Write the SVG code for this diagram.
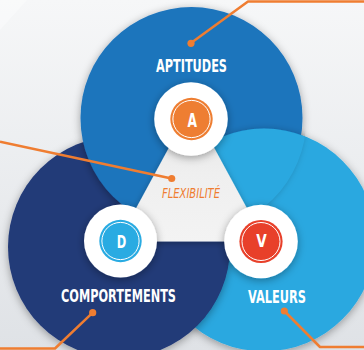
<svg xmlns="http://www.w3.org/2000/svg" width="364" height="350" viewBox="0 0 364 350">
<defs>
<linearGradient id="bg" x1="0" y1="0" x2="0" y2="1">
<stop offset="0" stop-color="#f6f7f8"/>
<stop offset="1" stop-color="#dfe2e6"/>
</linearGradient>
<linearGradient id="tri" x1="0" y1="0" x2="0" y2="1">
<stop offset="0" stop-color="#e2e2e2"/>
<stop offset="0.5" stop-color="#efefef"/>
<stop offset="1" stop-color="#f3f3f3"/>
</linearGradient>
<filter id="sh" x="-30%" y="-30%" width="160%" height="160%">
<feDropShadow dx="0" dy="2" stdDeviation="4" flood-color="#000" flood-opacity="0.35"/>
</filter>
<filter id="shs" x="-30%" y="-30%" width="160%" height="160%">
<feDropShadow dx="0" dy="1.5" stdDeviation="3" flood-color="#000" flood-opacity="0.3"/>
</filter>
<clipPath id="clipA"><circle cx="191.5" cy="118" r="115"/></clipPath>
<style>
.lbl{font-family:"Liberation Sans Narrow","DejaVu Sans Condensed","Liberation Sans",sans-serif;font-weight:bold;fill:#fff;font-size:18.5px;text-anchor:middle}
.let{font-family:"Liberation Sans Narrow","DejaVu Sans Condensed","Liberation Sans",sans-serif;font-weight:bold;fill:#fff;text-anchor:middle}
.flex{font-family:"Liberation Sans Narrow","DejaVu Sans Condensed","Liberation Sans",sans-serif;font-style:italic;fill:#ef7d31;font-size:14px;text-anchor:middle}
.ring{fill:none;stroke:#fff;stroke-width:1}
.con{fill:none;stroke:#ef7d31;stroke-width:2.5;stroke-linejoin:round}
.dot{fill:#ef7d31}
</style>
</defs>
<rect width="364" height="350" fill="url(#bg)"/>
<polygon points="0,0 27,0 0,30" fill="#ffffff" opacity="0.35"/>

<g id="node-valeurs">
<circle cx="264" cy="240" r="111.5" fill="#29a8e0" filter="url(#sh)"/>
<text class="lbl" x="277" y="302.5" textLength="58" lengthAdjust="spacingAndGlyphs">VALEURS</text>
</g>

<g id="node-comportements">
<circle cx="119" cy="247" r="111" fill="#233a78" filter="url(#sh)"/>
<text class="lbl" x="118.5" y="302.3" textLength="115" lengthAdjust="spacingAndGlyphs">COMPORTEMENTS</text>
</g>

<g id="node-aptitudes">
<circle cx="191.5" cy="118" r="111" fill="#1e74bc" filter="url(#sh)"/>
<text class="lbl" x="191.5" y="71.7" textLength="71" lengthAdjust="spacingAndGlyphs">APTITUDES</text>
</g>

<g id="overlap-valeurs" clip-path="url(#clipA)">
<circle cx="264" cy="240" r="111.5" fill="#29a8e0" filter="url(#sh)"/>
</g>

<g id="node-flexibilite">
<polygon points="191.5,106 118,241.5 265,241.5" fill="url(#tri)" filter="url(#shs)"/>
<text class="flex" x="191" y="197.5" textLength="58" lengthAdjust="spacingAndGlyphs">FLEXIBILITÉ</text>
</g>

<g id="badge-a">
<circle cx="191" cy="119" r="36.8" fill="#fff" filter="url(#sh)"/>
<circle cx="191.5" cy="119" r="21.2" fill="#ee7e32"/>
<circle cx="191.5" cy="119" r="18.6" class="ring"/>
<text class="let" x="192.3" y="126.7" font-size="20" textLength="9.5" lengthAdjust="spacingAndGlyphs">A</text>
</g>

<g id="badge-d">
<circle cx="120.5" cy="241" r="36.5" fill="#fff" filter="url(#sh)"/>
<circle cx="120.5" cy="241" r="21.2" fill="#29abe2"/>
<circle cx="120.5" cy="241" r="18.6" class="ring"/>
<text class="let" x="121.5" y="247.7" font-size="18" textLength="9.5" lengthAdjust="spacingAndGlyphs">D</text>
</g>

<g id="badge-v">
<circle cx="261" cy="241.5" r="36.8" fill="#fff" filter="url(#sh)"/>
<circle cx="261" cy="241.5" r="21.6" fill="#e8402a"/>
<circle cx="261" cy="241.5" r="19" class="ring"/>
<text class="let" x="261.5" y="247" font-size="18" textLength="10.5" lengthAdjust="spacingAndGlyphs">V</text>
</g>

<g id="connectors">
<polyline class="con" points="191,43 248,1.5 364,1.5"/>
<circle class="dot" cx="191" cy="43.3" r="3.6"/>
<polyline class="con" points="0,141.7 171.5,178.5"/>
<circle class="dot" cx="171.7" cy="178.5" r="3.6"/>
<polyline class="con" points="92.7,312.7 55,348.5 0,348.5"/>
<circle class="dot" cx="92.7" cy="312.7" r="3.6"/>
<polyline class="con" points="284.3,311 320,347 364,347"/>
<circle class="dot" cx="284.3" cy="311" r="3.6"/>
</g>
</svg>
